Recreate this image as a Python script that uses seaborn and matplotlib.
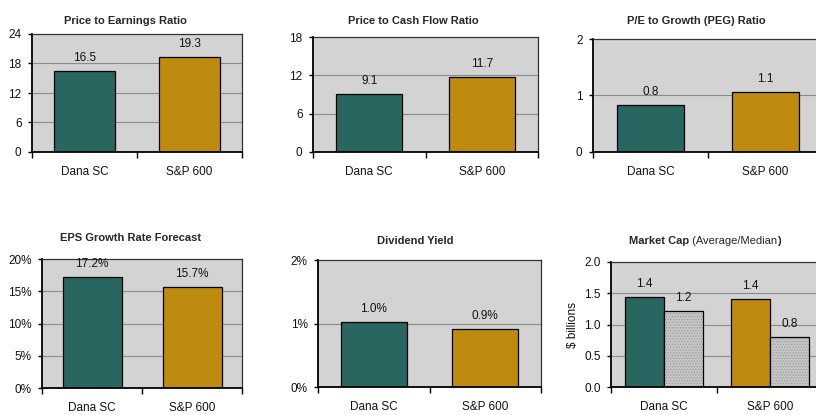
import matplotlib
matplotlib.use("Agg")
import matplotlib.pyplot as plt
import seaborn as sns
import pandas as pd

categories = ["Dana SC", "S&P 600"]
pe_ratio = [16.5, 19.3]
pcf_ratio = [9.1, 11.7]
peg_ratio = [0.84, 1.06]
eps_growth = [17.2, 15.7]
div_yield = [1.03, 0.92]
mcap_avg = [1.44, 1.41]
mcap_median = [1.21, 0.80]

titles = ["Price to Earnings Ratio", "Price to Cash Flow Ratio", "P/E to Growth (PEG) Ratio",
          "EPS Growth Rate Forecast", "Dividend Yield", "Market Cap"]
pe_ticks = [0, 6, 12, 18, 24]
pcf_ticks = [0, 6, 12, 18]
peg_ticks = [0, 1, 2]
eps_ticks = [0, 5, 10, 15, 20]
div_ticks = [0, 1, 2]
mcap_ticks = [0.0, 0.5, 1.0, 1.5, 2.0]

TEAL = "#296660"
GOLD = "#BF8A10"
BG = "#D3D3D3"
MED = "#C6C6C6"

sns.set_theme(style="white")
plt.rcParams["font.family"] = ["Liberation Sans Narrow", "Liberation Sans", "DejaVu Sans"]
plt.rcParams["hatch.linewidth"] = 0.6
plt.rcParams["ytick.direction"] = "out"
plt.rcParams["xtick.direction"] = "out"
plt.rcParams["ytick.major.size"] = 3
plt.rcParams["ytick.major.width"] = 1
plt.rcParams["ytick.left"] = True
plt.rcParams["ytick.major.pad"] = 4.5

W, H = 816, 415
fig = plt.figure(figsize=(W / 100, H / 100), dpi=100)
fig.patch.set_facecolor("white")


def rect(l, t, r, b):
    return [l / W, 1 - b / H, (r - l) / W, (b - t) / H]


def style(ax, ticks, fmt):
    ax.set_facecolor(BG)
    ax.set_xlim(-0.5, 1.5)
    ax.set_ylim(ticks[0], ticks[-1])
    ax.set_yticks(ticks)
    ax.set_yticklabels([fmt.format(t) for t in ticks], fontsize=8.5, color="#111111")
    ax.set_xticks([0, 1])
    ax.set_xticklabels(categories, fontsize=8.5, color="#111111")
    ax.set_xticks([-0.5, 0.5, 1.5], minor=True)
    ax.tick_params(axis="x", which="major", length=0, pad=10)
    ax.tick_params(axis="x", which="minor", length=4, width=1, color="black", bottom=True)
    ax.tick_params(axis="y", color="black", pad=4.5, length=3)
    for t in ticks[1:-1]:
        ax.axhline(t, color="#8A8A8A", lw=0.8, zorder=0.5)
    for s in ["top", "right"]:
        ax.spines[s].set_color("#333333")
        ax.spines[s].set_linewidth(0.9)
    for s in ["left", "bottom"]:
        ax.spines[s].set_color("black")
        ax.spines[s].set_linewidth(1.3)
    ax.set_xlabel("")
    ax.set_ylabel("")


def simple(pos, vals, ticks, tickfmt, labfmt, title, tpos):
    ax = fig.add_axes(rect(*pos))
    df = pd.DataFrame({"cat": categories, "val": vals})
    sns.barplot(data=df, x="cat", y="val", hue="cat", palette=[TEAL, GOLD], saturation=1,
                width=0.59, edgecolor="black", linewidth=0.9, legend=False, ax=ax, zorder=2)
    style(ax, ticks, tickfmt)
    for c in ax.containers:
        ax.bar_label(c, labels=[labfmt.format(v) for v in c.datavalues], padding=5,
                     fontsize=8.5, color="#111111", clip_on=False)
    fig.text(tpos[0] / W, 1 - tpos[1] / H, title, ha="center", va="center",
             fontsize=8, fontweight="bold")
    return ax


simple((32, 34, 242, 152), pe_ratio, pe_ticks, "{:d}", "{:.1f}", titles[0], (125, 21))
simple((313, 37, 538, 152), pcf_ratio, pcf_ticks, "{:d}", "{:.1f}", titles[1], (413, 21))
simple((593, 39, 823, 152), peg_ratio, peg_ticks, "{:d}", "{:.1f}", titles[2], (696, 21))
simple((42, 259, 242, 388), eps_growth, eps_ticks, "{:d}%", "{:.1f}%", titles[3], (131, 238))
simple((318, 260, 541, 387), div_yield, div_ticks, "{:d}%", "{:.1f}%", titles[4], (415, 241))

# Market cap grouped bars
ax = fig.add_axes(rect(611, 262, 823, 387))
df = pd.DataFrame({
    "cat": categories * 2,
    "measure": ["Average"] * 2 + ["Median"] * 2,
    "val": mcap_avg + mcap_median,
})
sns.barplot(data=df, x="cat", y="val", hue="measure", palette=[TEAL, MED], saturation=1,
            width=0.73, edgecolor="black", linewidth=0.9, legend=False, ax=ax, zorder=2)
style(ax, mcap_ticks, "{:.1f}")
for p in list(ax.patches):
    x0, y0 = p.get_x(), p.get_y()
    w, h = p.get_width(), p.get_height()
    if p.get_facecolor()[:3] == matplotlib.colors.to_rgb(MED):
        p.set_hatch("......")
        p.set_edgecolor("#9C9C9C")
        p.set_linewidth(0)
        outline = matplotlib.patches.Rectangle((x0, y0), w, h, fill=False,
                                               edgecolor="black", linewidth=0.9, zorder=3)
        ax.add_patch(outline)
    else:
        if x0 + w / 2 > 0.5:
            p.set_facecolor(GOLD)
for c in ax.containers:
    ax.bar_label(c, labels=["{:.1f}".format(v) for v in c.datavalues], padding=5,
                 fontsize=8.5, color="#111111", clip_on=False)
ax.set_ylabel("$ billions", fontsize=8.5, color="#111111", labelpad=4)
t1 = fig.text(629 / W, 1 - 241 / H, "Market Cap", ha="left", va="center",
              fontsize=8, fontweight="bold")
fig.canvas.draw()
ax.annotate(" (Average/Median", xy=(1, 0.5), xycoords=t1, va="center", ha="left",
            fontsize=8, annotation_clip=False)
t2 = ax.texts[-1]
fig.canvas.draw()
ax.annotate(")", xy=(1, 0.5), xycoords=t2, va="center", ha="left",
            fontsize=8, fontweight="bold", annotation_clip=False)

fig.savefig("out.png", dpi=100, facecolor="white")
